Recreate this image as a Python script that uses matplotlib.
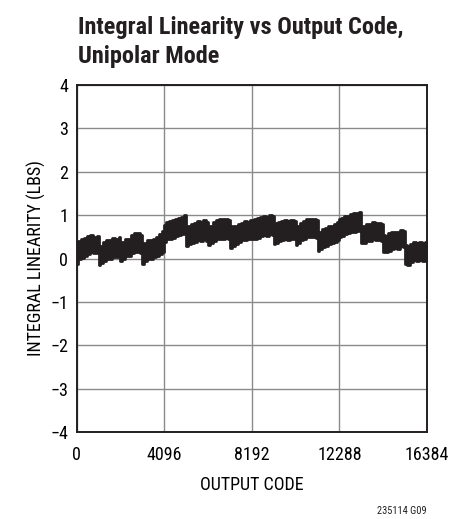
'''
Integral linearity vs output code, unipolar mode.
The noisy INL trace is drawn as a band (upper/lower envelope)
read off the reference plot, eight readings per 1024-code segment.
'''

import numpy as np
import matplotlib.pyplot as plt

FONT = ['Roboto Condensed', 'Liberation Sans', 'DejaVu Sans']
plt.rcParams['font.family'] = FONT

SEGMENT = 1024
# Where inside each 1024-code segment the readings were taken
READ_OFFSETS = [10, 150, 290, 430, 570, 710, 850, 1014]

# Upper edge of the INL band (LSB), one row per 1024-code segment
INL_UPPER = [
    0.28, 0.40, 0.46, 0.47, 0.52, 0.55, 0.50, 0.52,
    0.24, 0.30, 0.38, 0.42, 0.42, 0.47, 0.45, 0.50,
    0.30, 0.38, 0.45, 0.46, 0.55, 0.58, 0.58, 0.54,
    0.32, 0.36, 0.42, 0.42, 0.46, 0.50, 0.56, 0.64,
    0.78, 0.84, 0.86, 0.88, 0.92, 0.94, 0.96, 1.00,
    0.70, 0.74, 0.80, 0.82, 0.86, 0.85, 0.88, 0.84,
    0.72, 0.76, 0.84, 0.88, 0.92, 0.90, 0.92, 0.88,
    0.70, 0.74, 0.76, 0.80, 0.82, 0.86, 0.84, 0.88,
    0.86, 0.90, 0.94, 0.96, 0.98, 0.96, 1.00, 0.98,
    0.80, 0.82, 0.84, 0.86, 0.88, 0.86, 0.88, 0.86,
    0.72, 0.76, 0.82, 0.86, 0.90, 0.92, 0.90, 0.88,
    0.58, 0.62, 0.68, 0.70, 0.74, 0.76, 0.80, 0.84,
    0.90, 0.94, 0.98, 0.98, 1.02, 1.04, 1.06, 1.08,
    0.76, 0.74, 0.80, 0.80, 0.84, 0.82, 0.82, 0.80,
    0.54, 0.52, 0.58, 0.60, 0.62, 0.60, 0.66, 0.64,
    0.32, 0.30, 0.34, 0.38, 0.36, 0.38, 0.36, 0.38,
]

# Lower edge of the INL band (LSB)
INL_LOWER = [
    -0.12, -0.02, 0.02, 0.06, 0.10, 0.14, 0.12, 0.15,
    -0.16, -0.10, -0.05, 0.00, 0.00, 0.04, 0.04, 0.08,
    -0.06, 0.00, 0.05, 0.06, 0.12, 0.16, 0.16, 0.12,
    -0.12, -0.06, 0.00, 0.00, 0.04, 0.06, 0.10, 0.14,
    0.38, 0.44, 0.46, 0.48, 0.52, 0.54, 0.56, 0.58,
    0.30, 0.33, 0.36, 0.38, 0.42, 0.40, 0.44, 0.40,
    0.32, 0.36, 0.40, 0.44, 0.46, 0.44, 0.48, 0.46,
    0.24, 0.30, 0.34, 0.38, 0.42, 0.42, 0.44, 0.46,
    0.44, 0.46, 0.48, 0.52, 0.54, 0.52, 0.56, 0.55,
    0.34, 0.36, 0.40, 0.42, 0.45, 0.42, 0.46, 0.44,
    0.32, 0.36, 0.42, 0.46, 0.50, 0.50, 0.50, 0.48,
    0.18, 0.22, 0.26, 0.30, 0.34, 0.36, 0.38, 0.42,
    0.50, 0.52, 0.56, 0.58, 0.62, 0.62, 0.64, 0.66,
    0.36, 0.36, 0.40, 0.40, 0.44, 0.42, 0.42, 0.40,
    0.14, 0.14, 0.18, 0.22, 0.24, 0.22, 0.28, 0.26,
    -0.12, -0.14, -0.08, -0.04, -0.06, -0.04, -0.06, -0.04,
]

X_TICKS = [0, 4096, 8192, 12288, 16384]
Y_TICKS = [-4, -3, -2, -1, 0, 1, 2, 3, 4]

BAND_COLOR = '#231f20'
GRID_COLOR = '#8a8a8a'


def main():
    fig = plt.figure(figsize=(4.5, 5.19), dpi=100)
    ax = fig.add_axes([0.1704, 0.1676, 0.7786, 0.6686])

    n_seg = len(INL_UPPER) // len(READ_OFFSETS)
    codes = (np.arange(n_seg)[:, None] * SEGMENT
             + np.array(READ_OFFSETS)[None, :]).ravel()
    ax.fill_between(codes, INL_LOWER, INL_UPPER, step='mid', color=BAND_COLOR,
                    linewidth=2.0, edgecolor=BAND_COLOR, zorder=3)

    ax.set_xlim(0, 16384)
    ax.set_ylim(-4, 4)
    ax.set_xticks(X_TICKS)
    ax.set_yticks(Y_TICKS)
    ax.set_yticklabels([str(v).replace('-', '\u2212') for v in Y_TICKS])
    ax.tick_params(length=0, labelsize=13)
    ax.tick_params(axis='x', pad=10)
    ax.tick_params(axis='y', pad=6)

    ax.grid(True, color=GRID_COLOR, linewidth=1.0)
    ax.set_axisbelow(True)
    for sp in ax.spines.values():
        sp.set_linewidth(1.4)
        sp.set_color('#231f20')

    ax.set_xlabel('OUTPUT CODE', fontsize=13, labelpad=9)
    ax.set_ylabel('INTEGRAL LINEARITY (LBS)', fontsize=13, labelpad=3)

    fig.text(0.173, 0.970, 'Integral Linearity vs Output Code,\nUnipolar Mode',
             fontsize=17.5, fontweight='bold', va='top', ha='left',
             linespacing=1.35, color='#231f20')
    fig.text(0.949, 0.009, '235114 G09', fontsize=7.5, ha='right',
             color='#231f20')

    fig.savefig('out.png', dpi=100)


if __name__ == "__main__":
    main()
